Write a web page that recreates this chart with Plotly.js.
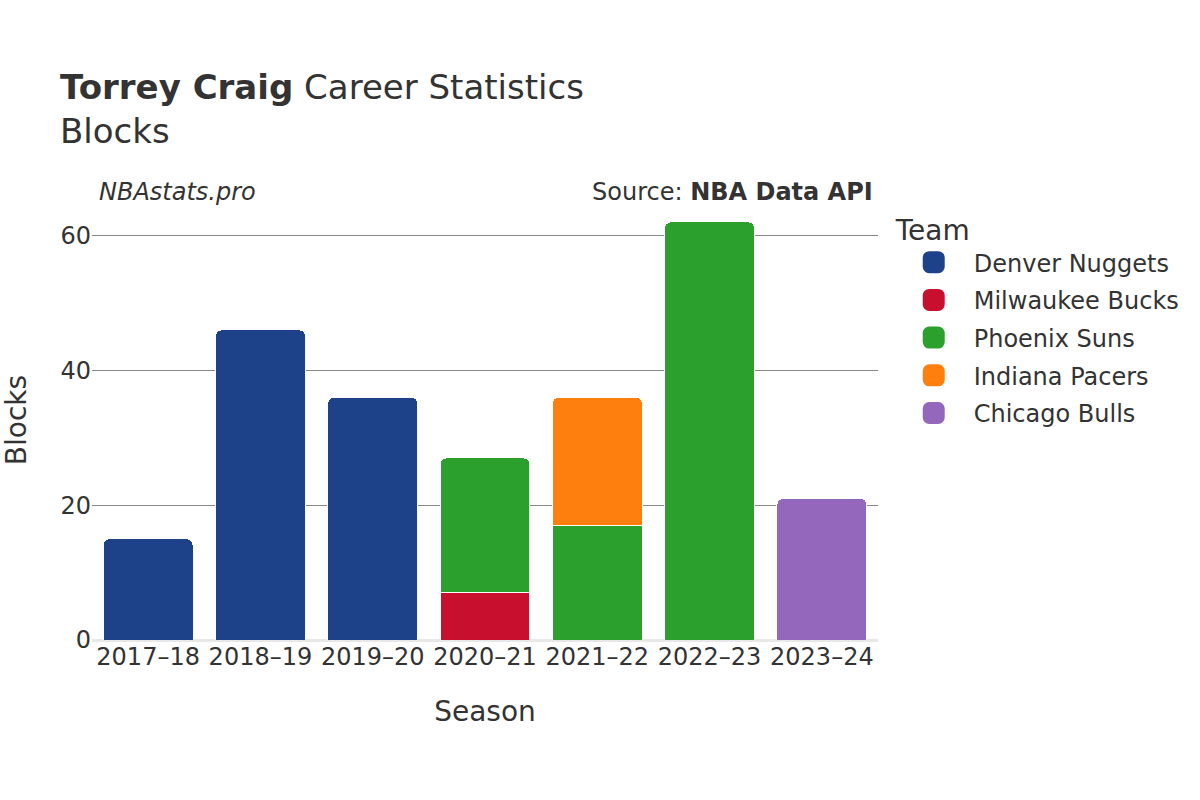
<!DOCTYPE html>
<html>
<head>
<meta charset="utf-8">
<script src="https://cdn.plot.ly/plotly-3.0.1.min.js"></script>
<style>html,body{margin:0;padding:0;background:#fff;}#chart{width:1200px;height:800px;}</style>
</head>
<body>
<div id="chart"></div>
<script>
const seasons = ["2017–18","2018–19","2019–20","2020–21","2021–22","2022–23","2023–24"];
const teams = ["Denver Nuggets","Milwaukee Bucks","Phoenix Suns","Indiana Pacers","Chicago Bulls"];
const teamColors = ["#1d428a","#c8102e","#2ca02c","#ff7f0e","#9467bd"];
const denverBlocks   = [15, 46, 36, null, null, null, null];
const milwaukeeBlocks= [null, null, null, 7, null, null, null];
const phoenixBlocks  = [null, null, null, 20, 17, 62, null];
const indianaBlocks  = [null, null, null, null, 19, null, null];
const chicagoBlocks  = [null, null, null, null, null, null, 21];
const seriesValues = [denverBlocks, milwaukeeBlocks, phoenixBlocks, indianaBlocks, chicagoBlocks];

const font = "DejaVu Sans, sans-serif";
const traces = teams.map((t, i) => ({
  type: "bar",
  name: t,
  legendgroup: t,
  x: seasons,
  y: seriesValues[i],
  marker: {color: teamColors[i], line: {color: "#ffffff", width: 1}},
  hovertemplate: "%{x}: %{y}<extra>" + t + "</extra>"
}));

const layout = {
  width: 1200, height: 800,
  barmode: "stack",
  bargap: 0.2,
  barcornerradius: 6,
  paper_bgcolor: "#fff", plot_bgcolor: "#fff",
  font: {family: font, color: "#333", size: 24},
  margin: {l: 92, r: 322, t: 200, b: 160},
  title: {
    text: "<b>Torrey Craig</b> Career Statistics<br>Blocks",
    x: 0.05, xanchor: "left", y: 0.876, yanchor: "top",
    font: {family: font, size: 34, color: "#333"}
  },
  xaxis: {
    title: {text: "Season", font: {size: 28, color: "#333"}, standoff: 31},
    tickfont: {size: 24, color: "#333"},
    showgrid: false, ticks: "", type: "category"
  },
  yaxis: {
    title: {text: "Blocks", font: {size: 28, color: "#333"}, standoff: 28},
    tickfont: {size: 24, color: "#333"},
    showgrid: true, gridcolor: "#888", gridwidth: 1,
    zeroline: true, zerolinecolor: "#e8e8e8", zerolinewidth: 3,
    range: [0, 65.26], tickvals: [0, 20, 40, 60], ticks: ""
  },
  legend: {
    title: {text: "Team", font: {size: 28, color: "#333"}},
    traceorder: "grouped",
    tracegroupgap: 3.5,
    x: 1.02, xanchor: "left", y: 0.9916, yanchor: "top",
    font: {size: 24, color: "#333"},
    itemwidth: 70
  },
  annotations: [
    {text: "<i>NBAstats.pro</i>", xref: "paper", yref: "paper", x: 0.006, y: 1.0, yshift: -8, xanchor: "left", yanchor: "bottom", showarrow: false, font: {size: 24, color: "#333"}},
    {text: "Source: <b>NBA Data API</b>", xref: "paper", yref: "paper", x: 0.996, y: 1.0, yshift: -8, xanchor: "right", yanchor: "bottom", showarrow: false, font: {size: 24, color: "#333"}}
  ]
};

function styleLegend() {
  document.querySelectorAll("#chart .legend .legendpoints path").forEach(p => {
    if (p.getAttribute("data-styled") === "1") return;
    const fill = p.style.fill;
    const t = p.getAttribute("transform") || "";
    p.setAttribute("transform", (t + " scale(1.5)").trim());
    p.setAttribute("data-styled", "1");
    p.style.stroke = fill;
    p.style.strokeWidth = "2.67px";
    p.style.strokeLinejoin = "round";
  });
}

Plotly.newPlot("chart", traces, layout, {displayModeBar: false}).then(gd => {
  styleLegend();
  gd.on("plotly_afterplot", styleLegend);
});
</script>
</body>
</html>
